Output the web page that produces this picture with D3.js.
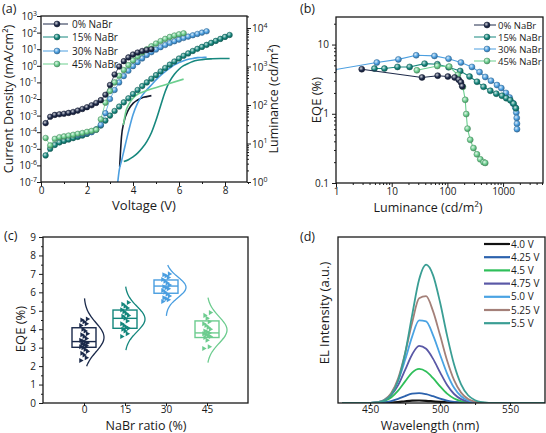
<!DOCTYPE html>
<html><head><meta charset="utf-8">
<script src="https://cdn.jsdelivr.net/npm/d3@7/dist/d3.min.js"></script>
<style>
body{margin:0;background:#fff;}
text{font-family:"Open Sans","Liberation Sans",Arial,sans-serif;fill:#1a1a1a;}
</style></head><body>
<svg id="fig" width="546" height="433"></svg>
<script>
// ================= DATA =================
const seriesNames = ["0% NaBr","15% NaBr","30% NaBr","45% NaBr"];
const seriesColors = ["#1e2a4a","#17887e","#4c9fe0","#6ccf8f"];

// (a) current density vs voltage
const jvV0 = [0.2,0.4,0.6,0.8,1.0,1.2,1.4,1.6,1.8,2.0,2.2,2.4,2.6,2.8,3.0,3.2,3.4,3.6,3.8,4.0,4.2,4.4,4.6,4.8];
const jvJ0 = [3.5e-4,8.5e-4,1.1e-3,1.2e-3,1.3e-3,1.45e-3,1.65e-3,2.0e-3,2.5e-3,3.2e-3,4.2e-3,5.8e-3,8.5e-3,1.8e-2,7e-2,0.3,0.9,1.9,3.2,4.8,6.3,7.8,9.0,10.0];
const jvV15 = [0.2,0.4,0.6,0.8,1.0,1.2,1.4,1.6,1.8,2.0,2.2,2.4,2.6,2.8,3.0,3.2,3.4,3.6,3.8,4.0,4.2,4.4,4.6,4.8,5.0,5.2,5.4,5.6,5.8,6.0,6.2,6.4,6.6,6.8,7.0,7.2,7.4,7.6,7.8,8.0,8.2];
const jvJ15 = [4e-6,1e-5,1.7e-5,2.4e-5,3e-5,3.6e-5,4.4e-5,5.2e-5,6.3e-5,7.9e-5,1.05e-4,1.5e-4,2.5e-4,5e-4,1e-3,1.9e-3,3.5e-3,6.3e-3,1.1e-2,2e-2,3.5e-2,6e-2,0.1,0.166,0.275,0.457,0.74,1.17,1.82,2.75,4.0,5.6,7.8,10.5,13.8,18.2,24,31.6,41.7,55,72];
const jvV30 = [1.6,1.8,2.0,2.2,2.4,2.6,2.8,3.0,3.2,3.4,3.6,3.8,4.0,4.2,4.4,4.6,4.8,5.0,5.2,5.4,5.6,5.8,6.0,6.2,6.4,6.6,6.8,7.0,7.2];
const jvJ30 = [7e-5,8e-5,9e-5,1e-4,1.4e-4,2.8e-4,1.4e-3,1e-2,3.5e-2,0.1,0.24,0.5,0.95,1.66,2.8,4.5,6.6,9.5,13.2,17.8,23.4,30,38,47,57.5,69,83,100,120];
const jvV45 = [0.2,0.4,0.6,0.8,1.0,1.2,1.4,1.6,1.8,2.0,2.2,2.4,2.6,2.8,3.0,3.2,3.4,3.6,3.8,4.0,4.2,4.4,4.6,4.8,5.0,5.2,5.4,5.6,5.8,6.0,6.2];
const jvJ45 = [4.5e-5,1.6e-5,4e-5,5e-5,5.6e-5,6.3e-5,7e-5,8e-5,9e-5,1.05e-4,1.2e-4,1.4e-4,6e-4,6e-3,3e-2,0.1,0.25,0.56,1.1,2.1,3.7,6.3,10,15,22,31,42,55,67,79,91];

// (a) luminance vs voltage (right axis)
const lumV0 = [3.42,3.5,3.6,3.8,4.0,4.2,4.4,4.6,4.8];
const lum0 = [2.5,15,35,75,110,135,155,165,175];
const lumV15 = [3.6,3.8,4.0,4.2,4.4,4.6,4.8,5.0,5.2,5.4,5.6,5.8,6.0,6.2,6.4,6.6,6.8,7.0,7.4,7.8,8.2];
const lum15 = [3.4,3.8,4.5,5.6,7.6,11.2,19,40,95,224,417,630,850,1050,1200,1350,1450,1510,1580,1620,1620];
const lumV30 = [3.33,3.4,3.5,3.6,3.8,4.0,4.2,4.4,4.6,4.8,5.0,5.2,5.4,5.6,5.8,6.0,6.2,6.4,6.6,6.8,7.0,7.2];
const lum30 = [0.9,2.0,3.5,6.3,20,56,112,178,250,330,450,590,740,910,1100,1260,1410,1550,1620,1700,1720,1740];
const lumV45 = [3.58,3.7,3.8,4.0,4.2,4.4,5.3,6.2];
const lum45 = [30,72,100,150,190,215,320,470];

// (b) EQE vs luminance
const eqeLum0 = [2.9,35,67,102,135,160,175,185];
const eqe0 = [4.4,3.35,3.55,3.45,3.35,3.1,2.85,2.5];
const eqeLum15 = [4.9,7.4,12.7,21,39,66,105,170,250,340,445,590,755,955,1140,1350,1545,1700];
const eqe15 = [4.5,4.5,4.75,4.75,5.3,5.2,4.7,4.15,3.45,2.9,2.45,2.15,1.95,1.82,1.68,1.57,1.4,1.2];
const eqeLum30 = [0.9,5.4,13.2,27.5,58.6,105,175,276,378,479,606,777,929,1127,1309,1507,1660,1727,1760,1775,1778];
const eqe30 = [4.3,5.5,6.1,7.0,6.85,6.25,5.5,4.75,4.0,3.4,3.0,2.6,2.35,2.0,1.72,1.42,1.23,1.04,0.87,0.72,0.6];
const eqeLum45 = [28.3,66,108,154,190,209,218,230,257,294,339,389,446,478];
const eqe45 = [4.25,4.9,4.8,3.64,2.45,1.59,0.99,0.61,0.42,0.32,0.26,0.22,0.2,0.195];

// (c) EQE statistics vs NaBr ratio
const ratioCats = [0,15,30,45];
const ratioPts0 = [2.3,2.45,2.6,2.7,2.8,2.9,3.0,3.05,3.1,3.15,3.2,3.25,3.3,3.35,3.4,3.5,3.6,3.7,3.75,3.9,4.0,4.2,4.3,4.4,4.5,4.55];
const ratioPts15 = [3.6,3.75,3.9,4.0,4.05,4.1,4.2,4.3,4.45,4.6,4.7,4.75,4.85,4.95,5.05,5.15,5.25,5.35,5.45];
const ratioPts30 = [5.5,5.6,5.65,5.7,5.8,5.9,6.0,6.1,6.2,6.25,6.3,6.4,6.5,6.6,6.7,6.8,6.9,6.95,7.0];
const ratioPts45 = [2.95,3.05,3.4,3.55,3.6,3.65,3.7,3.75,3.8,3.85,3.9,4.0,4.1,4.2,4.3,4.4,4.6,4.75,4.9];
const boxQ1 = [3.02,4.05,5.95,3.55];
const boxMed = [3.33,4.59,6.34,3.8];
const boxQ3 = [4.08,5.04,6.67,4.45];
const fitMean = [3.56,4.55,6.27,3.96];
const fitSd = [0.78,0.68,0.55,0.72];
const fitLo = [1.99,2.87,4.72,2.19];
const fitHi = [5.68,6.31,7.48,5.73];

// (d) EL spectra
const elLabels = ["4.0 V","4.25 V","4.5 V","4.75 V","5.0 V","5.25 V","5.5 V"];
const elColors = ["#111111","#2c62ad","#2fbf5a","#5a58a6","#4aa3e3","#a48079","#3a9e94"];
const elWavelength = [430,435,440,445,450,455,460,465,470,475,480,485,490,495,500,505,510,515,520,525,530,535,540,545,550,555,560,565,570,575];
const el400 = [0,0,0,0,0,0,0.001,0.0035,0.0074,0.0125,0.0167,0.018,0.016,0.012,0.008,0.0044,0.002,0.0008,0.0002,0,0,0,0,0,0,0,0,0,0,0];
const el425 = [0,0,0,0,0,0.0016,0.0053,0.014,0.030,0.050,0.067,0.072,0.064,0.049,0.032,0.018,0.0083,0.0033,0.0011,0.0003,0,0,0,0,0,0,0,0,0,0];
const el450 = [0,0,0,0,0.001,0.0042,0.0145,0.040,0.089,0.156,0.220,0.246,0.227,0.179,0.120,0.068,0.033,0.014,0.005,0.0015,0.0004,0,0,0,0,0,0,0,0,0];
const el475 = [0,0,0,0,0.0012,0.0053,0.019,0.056,0.129,0.239,0.351,0.413,0.392,0.319,0.221,0.130,0.065,0.028,0.010,0.0032,0.0008,0.0002,0,0,0,0,0,0,0,0];
const el500 = [0,0,0,0,0.0012,0.0058,0.022,0.067,0.162,0.312,0.480,0.597,0.590,0.489,0.349,0.213,0.110,0.049,0.018,0.0059,0.0016,0.0004,0,0,0,0,0,0,0,0];
const el525 = [0,0,0,0,0.001,0.0056,0.022,0.070,0.178,0.360,0.580,0.757,0.772,0.662,0.489,0.307,0.165,0.075,0.029,0.0097,0.0027,0.0007,0,0,0,0,0,0,0,0];
const el550 = [0,0,0,0.0001,0.0007,0.004,0.017,0.059,0.163,0.360,0.635,0.893,1.0,0.923,0.726,0.487,0.278,0.135,0.056,0.020,0.006,0.0015,0.0003,0,0,0,0,0,0,0];

// ================= DRAWING =================
const svg = d3.select("#fig");
svg.append("rect").attr("width",546).attr("height",433).attr("fill","#fff");
const defs = svg.append("defs");
const INK = "#1a1a1a";

function sphere(color,id){
  const g = defs.append("radialGradient").attr("id",id).attr("cx","38%").attr("cy","35%").attr("r","70%");
  g.append("stop").attr("offset","0%").attr("stop-color",d3.interpolateRgb(color,"#ffffff")(0.8));
  g.append("stop").attr("offset","55%").attr("stop-color",color);
  g.append("stop").attr("offset","100%").attr("stop-color",d3.interpolateRgb(color,"#000000")(0.35));
  return `url(#${id})`;
}
const sphereFill = seriesColors.map((c,i)=>sphere(c,"sph"+i));
const darkOf = c => d3.interpolateRgb(c,"#000")(0.35);

function clip(id,x0,y0,x1,y1){
  defs.append("clipPath").attr("id",id).append("rect").attr("x",x0).attr("y",y0).attr("width",x1-x0).attr("height",y1-y0);
  return `url(#${id})`;
}
function frame(x0,y0,x1,y1){
  svg.append("rect").attr("x",x0).attr("y",y0).attr("width",x1-x0).attr("height",y1-y0)
    .attr("fill","none").attr("stroke",INK).attr("stroke-width",1.3);
}
function styleAxis(g,fs){
  g.select(".domain").remove();
  g.selectAll("line").attr("stroke",INK).attr("stroke-width",1);
  g.selectAll("text").attr("font-size",fs||10).attr("fill",INK).style("font-family",'"Open Sans",Arial,sans-serif');
}
function powLabel(x,y,e,anchor){
  const t = svg.append("text").attr("x",x).attr("y",y).attr("text-anchor",anchor).attr("font-size",10);
  t.append("tspan").text("10");
  t.append("tspan").attr("dy",-4.5).attr("font-size",7).text(e);
}
function title(x,y,txt,rot,fs){
  const t = svg.append("text").attr("text-anchor","middle").attr("font-size",fs||13)
    .attr("transform",`translate(${x},${y})${rot?" rotate(-90)":""}`);
  return t.text(txt);
}
function markers(g,xs,ys,xs_,ys_,i,r){
  g.selectAll(null).data(d3.zip(xs,ys)).join("circle")
    .attr("cx",d=>xs_(d[0])).attr("cy",d=>ys_(d[1])).attr("r",r||3)
    .attr("fill",sphereFill[i]).attr("stroke",darkOf(seriesColors[i])).attr("stroke-width",0.5);
}
const line = (xs_,ys_) => d3.line().x(d=>xs_(d[0])).y(d=>ys_(d[1]));

// ---------- Panel (a) ----------
{
  const L=41,R=247,T=16,B=182;
  const x = d3.scaleLinear().domain([0,9]).range([L,248]);
  const yJ = d3.scaleLog().domain([1e-7,1e3]).range([B,T]);
  const yL = d3.scaleLog().domain([1,2.05e4]).range([B,T]);
  const cp = clip("clipA",L,T,R,B);
  const g = svg.append("g").attr("clip-path",cp);

  const jv = [[jvV0,jvJ0],[jvV15,jvJ15],[jvV30,jvJ30],[jvV45,jvJ45]];
  const lum = [[lumV0,lum0],[lumV15,lum15],[lumV30,lum30],[lumV45,lum45]];
  lum.forEach((s,i)=>{
    g.append("path").attr("d",line(x,yL).curve(d3.curveMonotoneX)(d3.zip(s[0],s[1])))
     .attr("fill","none").attr("stroke",i===0?"#141a2e":seriesColors[i]).attr("stroke-width",1.6);
  });
  [1,2,3,0].forEach(i=>{
    const s=jv[i];
    g.append("path").attr("d",line(x,yJ)(d3.zip(s[0],s[1]))).attr("fill","none").attr("stroke",seriesColors[i]).attr("stroke-width",0.8);
  });
  [1,2,3,0].forEach(i=>{ const s=jv[i]; markers(g,s[0],s[1],x,yJ,i,2.8); });

  const ax1 = svg.append("g").attr("transform",`translate(0,${B})`)
    .call(d3.axisBottom(x).tickValues([0,2,4,6,8]).tickSize(4).tickPadding(1));
  styleAxis(ax1);
  const ax1m = svg.append("g").attr("transform",`translate(0,${B})`)
    .call(d3.axisBottom(x).tickValues([1,3,5,7,9]).tickSize(2).tickFormat(""));
  styleAxis(ax1m);
  const decJ = d3.range(-7,4).map(e=>Math.pow(10,e));
  const ax2 = svg.append("g").attr("transform",`translate(${L},0)`)
    .call(d3.axisLeft(yJ).tickValues(decJ).tickSize(4).tickFormat(""));
  styleAxis(ax2);
  decJ.forEach(v=>powLabel(37,yJ(v)+4,Math.round(Math.log10(v)),"end"));
  const decL=[1,10,100,1000,10000];
  const ax3 = svg.append("g").attr("transform",`translate(${R},0)`)
    .call(d3.axisRight(yL).tickValues(decL).tickSize(4).tickFormat(""));
  styleAxis(ax3);
  const minL = yL.ticks().filter(v=>!decL.includes(v));
  const ax3m = svg.append("g").attr("transform",`translate(${R},0)`)
    .call(d3.axisRight(yL).tickValues(minL).tickSize(2).tickFormat(""));
  styleAxis(ax3m);
  decL.forEach(v=>powLabel(252,yL(v)+4,Math.round(Math.log10(v)),"start"));
  frame(L,T,R,B);

  title(13,99,"Current Density (mA/cm²)",true,12.5);
  title(278,99,"Luminance (cd/m²)",true,12.5);
  title(144,210,"Voltage (V)",false);

  seriesNames.forEach((n,i)=>{
    const yy=[24,37,51,64][i];
    svg.append("line").attr("x1",43).attr("x2",68).attr("y1",yy).attr("y2",yy).attr("stroke",seriesColors[i]).attr("stroke-width",1);
    svg.append("circle").attr("cx",57).attr("cy",yy).attr("r",3).attr("fill",sphereFill[i]).attr("stroke",darkOf(seriesColors[i])).attr("stroke-width",0.5);
    svg.append("text").attr("x",72).attr("y",yy+3.5).attr("font-size",10).text(n);
  });
  svg.append("text").attr("x",2).attr("y",13).attr("font-size",12.5).text("(a)");
}

// ---------- Panel (b) ----------
{
  const L=336,R=543,T=17,B=183;
  const x = d3.scaleLog().domain([1,5000]).range([L,542]);
  const y = d3.scaleLog().domain([0.1,25]).range([B,T]);
  const cp = clip("clipB",L,T,R,B);
  const g = svg.append("g").attr("clip-path",cp);
  const ser = [[eqeLum0,eqe0],[eqeLum15,eqe15],[eqeLum30,eqe30],[eqeLum45,eqe45]];
  [2,1,3,0].forEach(i=>{
    const s=ser[i];
    g.append("path").attr("d",line(x,y)(d3.zip(s[0],s[1]))).attr("fill","none").attr("stroke",seriesColors[i]).attr("stroke-width",1.1);
    markers(g,s[0],s[1],x,y,i,3);
  });
  const decX=[1,10,100,1000];
  const axb = svg.append("g").attr("transform",`translate(0,${B})`)
    .call(d3.axisBottom(x).tickValues(decX).tickSize(4).tickPadding(1).tickFormat(d3.format("d")));
  styleAxis(axb);
  const axbm = svg.append("g").attr("transform",`translate(0,${B})`)
    .call(d3.axisBottom(x).tickValues(x.ticks().filter(v=>!decX.includes(v))).tickSize(2).tickFormat(""));
  styleAxis(axbm);
  const decY=[0.1,1,10];
  const axl = svg.append("g").attr("transform",`translate(${L},0)`)
    .call(d3.axisLeft(y).tickValues(decY).tickSize(4).tickPadding(3).tickFormat(d3.format("~g")));
  styleAxis(axl);
  const axlm = svg.append("g").attr("transform",`translate(${L},0)`)
    .call(d3.axisLeft(y).tickValues(y.ticks().filter(v=>!decY.includes(v))).tickSize(2).tickFormat(""));
  styleAxis(axlm);
  frame(L,T,R,B);
  title(321,100,"EQE (%)",true);
  title(428,212,"Luminance (cd/m²)",false,12.5);
  seriesNames.forEach((n,i)=>{
    const yy=[25,37,49,61][i];
    svg.append("line").attr("x1",474).attr("x2",496).attr("y1",yy).attr("y2",yy).attr("stroke",seriesColors[i]).attr("stroke-width",1);
    svg.append("circle").attr("cx",487).attr("cy",yy).attr("r",3).attr("fill",sphereFill[i]).attr("stroke",darkOf(seriesColors[i])).attr("stroke-width",0.5);
    svg.append("text").attr("x",498).attr("y",yy+3.5).attr("font-size",9.5).text(n);
  });
  svg.append("text").attr("x",300).attr("y",13).attr("font-size",12.5).text("(b)");
}

// ---------- Panel (c) ----------
{
  const L=43,R=248,T=237,B=403;
  const x = d3.scaleLinear().domain([-15,60]).range([L,R]);
  const y = d3.scaleLinear().domain([0,9]).range([B,T]);
  const pts = [ratioPts0,ratioPts15,ratioPts30,ratioPts45];
  const cColors = ["#1b2a4b","#13867c","#4a9ee0","#6dcc8f"];
  ratioCats.forEach((c,i)=>{
    const cx = x(c), col = cColors[i];
    const g = svg.append("g");
    g.append("rect").attr("x",cx-12).attr("width",24).attr("y",y(boxQ3[i])).attr("height",y(boxQ1[i])-y(boxQ3[i]))
      .attr("fill","none").attr("stroke",col).attr("stroke-width",1.4);
    g.append("line").attr("x1",cx-12).attr("x2",cx+12).attr("y1",y(boxMed[i])).attr("y2",y(boxMed[i])).attr("stroke",col).attr("stroke-width",1.4);
    const vs = d3.range(fitLo[i],fitHi[i]+0.001,0.04);
    const curve = d3.line().x(v=>cx+20*Math.exp(-((v-fitMean[i])**2)/(2*fitSd[i]**2))).y(v=>y(v)).curve(d3.curveBasis);
    g.append("path").attr("d",curve(vs)).attr("fill","none").attr("stroke",col).attr("stroke-width",1.3);
    g.selectAll(null).data(pts[i]).join("path")
      .attr("d",d3.symbol().type(d3.symbolTriangle).size(11))
      .attr("transform",(v,k)=>`translate(${cx+((k*5)%7-3)*1.1},${y(v)}) rotate(90)`)
      .attr("fill",col);
  });
  const axb = svg.append("g").attr("transform",`translate(0,${B})`)
    .call(d3.axisBottom(x).tickValues(ratioCats).tickSize(3).tickPadding(0));
  styleAxis(axb);
  const axl = svg.append("g").attr("transform",`translate(${L},0)`)
    .call(d3.axisLeft(y).tickValues(d3.range(0,10)).tickSize(4).tickPadding(3));
  styleAxis(axl);
  const axlm = svg.append("g").attr("transform",`translate(${L},0)`)
    .call(d3.axisLeft(y).tickValues(d3.range(0.5,9,1)).tickSize(2).tickFormat(""));
  styleAxis(axlm);
  frame(L,T,R,B);
  title(25,329,"EQE (%)",true);
  title(146,430,"NaBr ratio (%)",false,12.5);
  svg.append("text").attr("x",4).attr("y",240).attr("font-size",12.5).text("(c)");
}

// ---------- Panel (d) ----------
{
  const L=338,R=545,T=237,B=403;
  const x = d3.scaleLinear().domain([427,575]).range([L,R]);
  const y = d3.scaleLinear().domain([0,1.2]).range([B,T]);
  const cp = clip("clipD",L,T,R,B);
  const g = svg.append("g").attr("clip-path",cp);
  const spectra = [el400,el425,el450,el475,el500,el525,el550];
  spectra.forEach((s,i)=>{
    g.append("path").attr("d",d3.line().x((d,k)=>x(elWavelength[k])).y(d=>y(d)).curve(d3.curveMonotoneX)(s))
      .attr("fill","none").attr("stroke",elColors[i]).attr("stroke-width",i===0?2.2:1.8);
  });
  const axb = svg.append("g").attr("transform",`translate(0,${B})`)
    .call(d3.axisBottom(x).tickValues([450,500,550]).tickSize(3).tickPadding(0));
  styleAxis(axb);
  const axbm = svg.append("g").attr("transform",`translate(0,${B})`)
    .call(d3.axisBottom(x).tickValues([475,525]).tickSize(2).tickFormat(""));
  styleAxis(axbm);
  frame(L,T,R,B);
  title(329,313,"EL Intensity (a.u.)",true);
  title(430,430,"Wavelength (nm)",false,12.5);
  elLabels.forEach((n,i)=>{
    const yy = 244 + i*13.2;
    svg.append("line").attr("x1",484).attr("x2",510).attr("y1",yy).attr("y2",yy).attr("stroke",elColors[i]).attr("stroke-width",2.2);
    svg.append("text").attr("x",511).attr("y",yy+3.6).attr("font-size",10).text(n);
  });
  svg.append("text").attr("x",300).attr("y",241).attr("font-size",12.5).text("(d)");
}
</script>
</body></html>
